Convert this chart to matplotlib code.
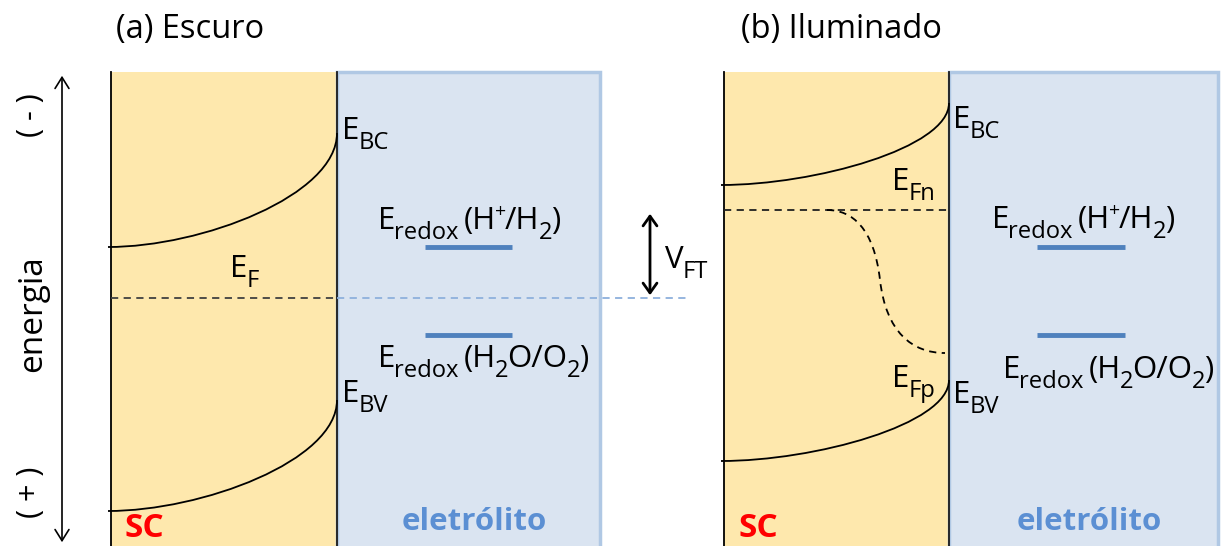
import matplotlib
matplotlib.use("Agg")
import matplotlib.pyplot as plt
from matplotlib.path import Path
from matplotlib.patches import PathPatch, Rectangle, FancyArrowPatch

plt.rcParams['font.family'] = ['Open Sans', 'DejaVu Sans']

W, H = 1221, 546
YELLOW = '#fee8ad'
BLUE_FILL = '#dae4f1'
BLUE_EDGE = '#b0c8e4'
REDOX = '#4f81bd'
ELETRO = '#5b8fd3'

# === DIAGRAM DATA (pixel coords) ===
panel_titles = ['(a) Escuro', '(b) Iluminado']
title_x = [116, 741]

# [x_left_sc, x_interface, x_right_electrolyte]
panel_x = [[111, 337, 600], [724, 949, 1218]]
box_top = 72

# band edges: (y far from interface, y at interface)
bc_a = (247, 133)
bv_a = (511, 400)
bc_b = (185, 103)
bv_b = (461, 380)

fermi_a = 298          # dark Fermi level, extended to V_FT arrow
fermi_ext_end = 690
fermi_n_b = 210        # quasi Fermi level of electrons
efp_start = (827, 210)
efp_end = (945, 353)

redox_h2 = 247
redox_o2 = 335
redox_span = [(425, 512), (1037, 1125)]

vft_x = 650
vft_top = 211

# labels: (x_left, baseline, parts)
H2_PARTS = [('E', 'n'), ('redox', 's'), (6, 'gap'), ('(H', 'n'), ('+', 'p'),
            ('/H', 'n'), ('2', 's'), (')', 'n')]
O2_PARTS = [('E', 'n'), ('redox', 's'), (6, 'gap'), ('(H', 'n'), ('2', 's'),
            ('O/O', 'n'), ('2', 's'), (')', 'n')]
labels = [
    (342, 139, [('E', 'n'), ('BC', 's')]),
    (342, 402, [('E', 'n'), ('BV', 's')]),
    (230, 277, [('E', 'n'), ('F', 's')]),
    (378, 229, H2_PARTS),
    (378, 367, O2_PARTS),
    (665, 268, [('V', 'n'), ('FT', 's')]),
    (953, 128, [('E', 'n'), ('BC', 's')]),
    (953, 403, [('E', 'n'), ('BV', 's')]),
    (892, 190, [('E', 'n'), ('Fn', 's')]),
    (892, 387, [('E', 'n'), ('Fp', 's')]),
    (992, 228, H2_PARTS),
    (1003, 378, O2_PARTS),
]


def band_curve(ax, x0, x1, y_far, y_int, ls='-'):
    k = x1 - x0
    verts = [(x0 - 3, y_far), (x0 + 0.4 * k, y_far),
             (x1, y_int + 0.55 * (y_far - y_int)), (x1, y_int)]
    codes = [Path.MOVETO, Path.CURVE4, Path.CURVE4, Path.CURVE4]
    ax.add_patch(PathPatch(Path(verts, codes), fc='none', ec='black',
                           lw=1.3, ls=ls, zorder=4))


def label(ax, renderer, x, y, parts, fs=22.5):
    cx = x
    for txt, role in parts:
        if role == 'gap':
            cx += txt
            continue
        size, dy = {'n': (fs, 0), 's': (fs * 0.76, fs * 0.43),
                    'p': (fs * 0.62, -fs * 0.55)}[role]
        t = ax.text(cx, y + dy, txt, fontsize=size, ha='left', va='baseline', zorder=6)
        cx += t.get_window_extent(renderer=renderer).width - 1


fig = plt.figure(figsize=(W / 100, H / 100), dpi=100)
ax = fig.add_axes([0, 0, 1, 1])
ax.set_xlim(0, W)
ax.set_ylim(H, 0)
ax.axis('off')
R = fig.canvas.get_renderer()

for i, (xl, xi, xr) in enumerate(panel_x):
    ax.add_patch(Rectangle((xl, box_top), xi - xl, H - box_top + 5,
                           fc=YELLOW, ec='none', zorder=1))
    ax.add_patch(Rectangle((xi, box_top), xr - xi, H - box_top + 5,
                           fc=BLUE_FILL, ec=BLUE_EDGE, lw=2.5, zorder=1))
    ax.plot([xl, xl], [box_top, H], color='black', lw=1.3, zorder=3)
    ax.plot([xi, xi], [box_top, H], color='#1a1a1a', lw=1.3, zorder=3)
    ax.text(title_x[i], 38, panel_titles[i], fontsize=23.5, va='baseline', ha='left')
    ax.text(xl + 14, 537, 'SC', color='#ff0000', fontsize=24,
            fontweight='bold', va='baseline', ha='left')
    ax.text((xi + xr) / 2 + 6, 530, 'eletrólito', color=ELETRO, fontsize=22.5,
            fontweight='bold', va='baseline', ha='center')
    r0, r1 = redox_span[i]
    for yy in (redox_h2, redox_o2):
        ax.plot([r0, r1], [yy, yy], color=REDOX, lw=3.5, solid_capstyle='butt', zorder=3)

# panel (a)
xl, xi, xr = panel_x[0]
band_curve(ax, xl, xi, *bc_a)
band_curve(ax, xl, xi, *bv_a)
ax.plot([xl, xi], [fermi_a, fermi_a], color='#404040', lw=1.3, ls=(0, (4, 3)), zorder=4)
ax.plot([xi, fermi_ext_end], [fermi_a, fermi_a], color='#8eb0dc', lw=1.3,
        ls=(0, (4, 3)), zorder=4)
ax.add_patch(FancyArrowPatch((vft_x, fermi_a), (vft_x, vft_top),
                             arrowstyle='<->,head_length=7,head_width=5',
                             lw=2, color='black', mutation_scale=1, zorder=5))

# panel (b)
xl, xi, xr = panel_x[1]
band_curve(ax, xl, xi, *bc_b)
band_curve(ax, xl, xi, *bv_b)
ax.plot([xl, xi], [fermi_n_b, fermi_n_b], color='#202020', lw=1.3, ls=(0, (4, 3)), zorder=4)
x0, y0 = efp_start
x1, y1 = efp_end
verts = [(x0, y0), (x0 + 25, y0), (x0 + 47, y0 + 18), (x0 + 53, y0 + 70),
         (x0 + 59, y0 + 122), (x0 + 85, y1), (x1, y1)]
codes = [Path.MOVETO] + [Path.CURVE4] * 6
ax.add_patch(PathPatch(Path(verts, codes), fc='none', ec='black', lw=1.3,
                       ls=(0, (4, 3)), zorder=4))

for lx, ly, parts in labels:
    label(ax, R, lx, ly, parts)

# energy axis
ax.add_patch(FancyArrowPatch((62, 545), (62, 73), arrowstyle='<->,head_length=8,head_width=5',
                             lw=1.2, color='black', mutation_scale=1, zorder=5))
ax.text(31, 115, '( - )', fontsize=22, rotation=90, va='center', ha='center')
ax.text(33, 314, 'energia', fontsize=24, rotation=90, va='center', ha='center')
ax.text(31, 492, '( + )', fontsize=22, rotation=90, va='center', ha='center')

fig.savefig('out.png', dpi=100)
